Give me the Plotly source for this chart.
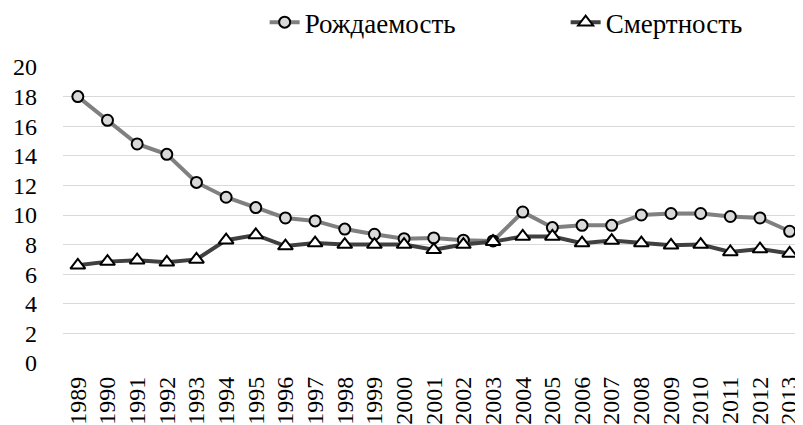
import plotly.graph_objects as go

years = [str(y) for y in range(1989, 2014)]
births = [18.0, 16.4, 14.8, 14.1, 12.2, 11.2, 10.5, 9.8, 9.6, 9.05, 8.7, 8.4,
          8.45, 8.3, 8.25, 10.2, 9.15, 9.3, 9.3, 10.0, 10.1, 10.1, 9.9, 9.8, 8.9]
deaths = [6.6, 6.85, 6.95, 6.8, 7.0, 8.3, 8.65, 7.9, 8.1, 8.0, 8.0, 8.0,
          7.65, 8.0, 8.2, 8.55, 8.55, 8.1, 8.27, 8.1, 7.95, 8.0, 7.5, 7.7, 7.4]
y_ticks = list(range(0, 21, 2))

FONT = "Liberation Serif"

fig = go.Figure()
fig.add_trace(go.Scatter(
    x=years, y=births, name="Рождаемость", mode="lines+markers",
    line=dict(color="#808080", width=4),
    marker=dict(symbol="circle", size=11, color="#d9d9d9", line=dict(color="black", width=2)),
    cliponaxis=False))
fig.add_trace(go.Scatter(
    x=years, y=deaths, name="Смертность", mode="lines+markers",
    line=dict(color="#404040", width=4),
    marker=dict(symbol="triangle-up", size=13, color="white", line=dict(color="black", width=2)),
    cliponaxis=False))

# page body has an 8px margin, so the figure is 795x417 placed at (8, 8)
fig.update_layout(
    width=795, height=417,
    margin=dict(l=55, r=0, t=59, b=62, autoexpand=False),
    paper_bgcolor="white", plot_bgcolor="white",
    font=dict(family=FONT, size=24, color="black"),
    showlegend=True,
    legend=dict(orientation="h", x=0.2725, y=1.15, xanchor="left", yanchor="middle",
                font=dict(family=FONT, size=27), entrywidth=256, entrywidthmode="pixels",
                tracegroupgap=0, bgcolor="rgba(0,0,0,0)"),
    xaxis=dict(type="category", range=[-0.5, 24.45], tickangle=-90, showgrid=False,
               showline=False, ticks="", automargin=False, ticklabelstandoff=8,
               tickfont=dict(family=FONT, size=24)),
    yaxis=dict(range=[0, 20], tickvals=y_ticks, showgrid=True, gridcolor="#d9d9d9",
               gridwidth=1, zeroline=False, showline=False, ticks="", automargin=False,
               ticklabelstandoff=25, tickfont=dict(family=FONT, size=24)),
)

fig.write_html("out.html")
